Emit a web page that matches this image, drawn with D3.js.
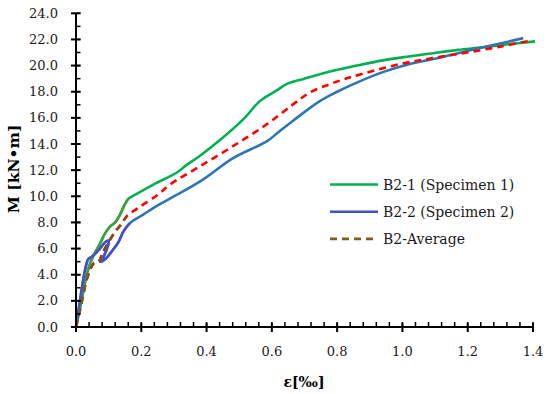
<!DOCTYPE html>
<html><head><meta charset="utf-8">
<script src="https://cdn.jsdelivr.net/npm/d3@7"></script>
<style>
body{margin:0;background:#fff;}
svg{display:block;}
text{font-family:"DejaVu Serif",serif;}
</style></head><body>
<svg id="c" width="550" height="394"></svg>
<script>
// ---- data ----
const xTicks = [0.0,0.2,0.4,0.6,0.8,1.0,1.2,1.4];
const yTicks = [0,2,4,6,8,10,12,14,16,18,20,22,24];
const seriesNames = ["B2-1 (Specimen 1)","B2-2 (Specimen 2)","B2-Average"];
const b21 = [[0,0],[0.015,1.8],[0.035,4.2],[0.05,5.3],[0.07,6.2],[0.09,7.2],[0.105,7.7],[0.12,8.0],[0.135,8.6],[0.148,9.3],[0.16,9.8],[0.18,10.1],[0.237,10.9],[0.308,11.8],[0.339,12.4],[0.38,13.1],[0.441,14.3],[0.513,15.9],[0.564,17.3],[0.615,18.1],[0.646,18.6],[0.7,19.0],[0.788,19.6],[0.86,20.0],[0.94,20.4],[1.02,20.7],[1.094,20.95],[1.17,21.2],[1.247,21.4],[1.33,21.65],[1.406,21.85]];
const b22 = [[0,0],[0.012,2.0],[0.028,4.4],[0.038,5.2],[0.05,5.4],[0.07,5.9],[0.09,6.5],[0.1,6.6],[0.085,5.4],[0.075,5.0],[0.09,5.2],[0.11,5.8],[0.13,6.5],[0.145,7.3],[0.165,7.95],[0.206,8.6],[0.25,9.3],[0.308,10.1],[0.39,11.3],[0.48,12.9],[0.584,14.2],[0.62,14.9],[0.666,15.8],[0.748,17.3],[0.8,18.0],[0.86,18.7],[0.94,19.5],[1.02,20.1],[1.094,20.5],[1.17,20.95],[1.247,21.4],[1.31,21.75],[1.37,22.1]];
const bAvg = [[0,0],[0.015,1.6],[0.035,3.8],[0.055,4.9],[0.07,5.0],[0.08,5.6],[0.1,6.5],[0.12,7.3],[0.14,7.9],[0.155,8.46],[0.196,9.2],[0.25,10.1],[0.288,10.9],[0.38,12.3],[0.482,13.85],[0.584,15.5],[0.666,17.05],[0.717,17.95],[0.78,18.6],[0.84,19.1],[0.99,20.1],[1.1,20.6],[1.197,21.0],[1.3,21.45],[1.39,21.9]];
const earlyLimit = 0.165; // part of curves drawn in overlay colour

const svg = d3.select("#c");
const x = d3.scaleLinear().domain([0,1.4]).range([76,533]);
const y = d3.scaleLinear().domain([0,24]).range([327,13.3]);

const line = d3.line().x(d=>x(d[0])).y(d=>y(d[1])).curve(d3.curveCatmullRom.alpha(0.5));

const main = [
  {d:b21, c:"#00b050", dash:null, oc:"#4e9a3c"},
  {d:b22, c:"#2e75b6", dash:null, oc:"#4b48cc"},
  {d:bAvg, c:"#ff0000", dash:"7,5", oc:"#6e5a1a"}
];
const g = svg.append("g");
main.forEach(s=>{
  g.append("path").attr("d",line(s.d)).attr("fill","none").attr("stroke",s.c)
   .attr("stroke-width",2.6).attr("stroke-dasharray",s.dash);
});
main.forEach(s=>{
  let idx = s.d.findIndex(p=>p[0]>earlyLimit && p[1]>7.5);
  const part = s.d.slice(0, idx);
  g.append("path").attr("d",line(part)).attr("fill","none").attr("stroke",s.oc)
   .attr("stroke-width",2.6).attr("stroke-dasharray",s.dash).attr("opacity",0.85);
});

// axes
const ax = svg.append("g").attr("stroke","#000");
ax.append("line").attr("x1",x(0)).attr("x2",x(1.4)).attr("y1",y(0)).attr("y2",y(0)).attr("stroke-width",2);
ax.append("line").attr("x1",x(0)).attr("x2",x(0)).attr("y1",y(0)).attr("y2",y(24)).attr("stroke-width",2);
const xMinor = d3.range(0,1.4001,0.04);
xMinor.forEach(v=>{
  ax.append("line").attr("x1",x(v)).attr("x2",x(v)).attr("y1",y(0)-5).attr("y2",y(0)).attr("stroke-width",1.5);
});
xTicks.forEach(v=>{
  ax.append("line").attr("x1",x(v)).attr("x2",x(v)).attr("y1",y(0)-4).attr("y2",y(0)+5).attr("stroke-width",2);
});
d3.range(0,24.001,1).forEach(v=>{
  ax.append("line").attr("x1",x(0)).attr("x2",x(0)+4.5).attr("y1",y(v)).attr("y2",y(v)).attr("stroke-width",1.5);
});
yTicks.forEach(v=>{
  ax.append("line").attr("x1",x(0)-5).attr("x2",x(0)+4.5).attr("y1",y(v)).attr("y2",y(v)).attr("stroke-width",2);
});
const lab = svg.append("g").attr("fill","#1a1a1a").attr("font-size",13);
xTicks.forEach(v=>{
  lab.append("text").attr("x",x(v)).attr("y",y(0)+29).attr("text-anchor","middle").text(d3.format(".1f")(v));
});
yTicks.forEach(v=>{
  lab.append("text").attr("x",58).attr("y",y(v)+4.5).attr("text-anchor","end").text(d3.format(".1f")(v));
});
svg.append("text").attr("x",304).attr("y",387).attr("text-anchor","middle").attr("font-weight","bold").attr("font-size",14).text("ε[‰]");
svg.append("text").attr("transform","translate(19,169) rotate(-90)").attr("text-anchor","middle").attr("font-weight","bold").attr("font-size",15.5).text("M [kN•m]");

// legend
const leg = [
  {n:seriesNames[0], c:"#00b050", dash:null},
  {n:seriesNames[1], c:"#4050c8", dash:null},
  {n:seriesNames[2], c:"#7f5a22", dash:"7,5"}
];
leg.forEach((l,i)=>{
  const yy = 184.5 + i*27.2;
  svg.append("line").attr("x1",330).attr("x2",378).attr("y1",yy).attr("y2",yy)
    .attr("stroke",l.c).attr("stroke-width",2.6).attr("stroke-dasharray",l.dash);
  svg.append("text").attr("x",383).attr("y",yy+5).attr("font-size",14).attr("fill","#1a1a1a").text(l.n);
});
</script></body></html>
